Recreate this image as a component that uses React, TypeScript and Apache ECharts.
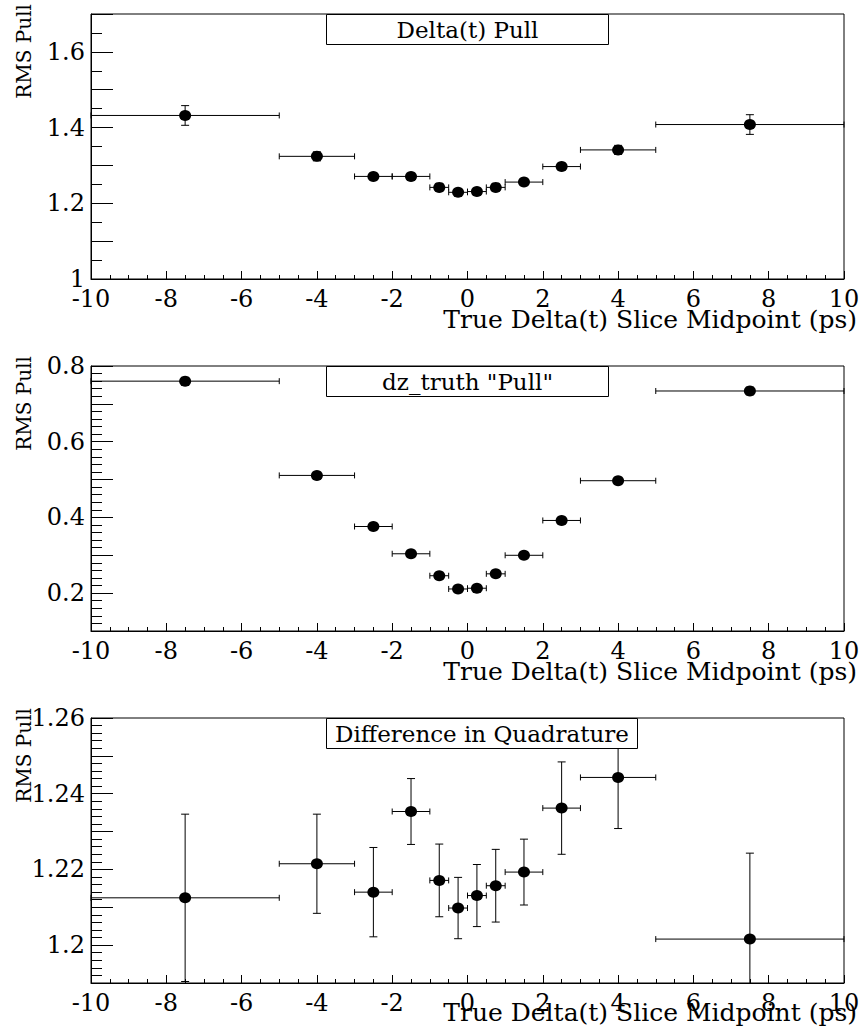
import { useEffect, useRef } from "react";
import * as echarts from "echarts";

// Bin edges of the true Delta(t) slices (ps)
const binEdges = [-10, -5, -3, -2, -1, -0.5, 0, 0.5, 1, 2, 3, 5, 10];

// Panel 1: Delta(t) pull RMS
const deltaPull = [1.432, 1.324, 1.271, 1.271, 1.242, 1.229, 1.231, 1.242, 1.256, 1.297, 1.341, 1.408];
const deltaPullErr = [0.026, 0.012, 0.006, 0.006, 0.006, 0.006, 0.006, 0.006, 0.006, 0.006, 0.012, 0.026];

// Panel 2: dz_truth "pull" RMS
const dzPull = [0.76, 0.511, 0.376, 0.304, 0.246, 0.211, 0.213, 0.251, 0.3, 0.392, 0.497, 0.734];
const dzPullErr = [0.01, 0.005, 0.004, 0.004, 0.004, 0.004, 0.004, 0.004, 0.004, 0.004, 0.005, 0.01];

// Panel 3: difference in quadrature
const quadDiff = [1.2125, 1.2215, 1.214, 1.2353, 1.2171, 1.2098, 1.2131, 1.2157, 1.2193, 1.2362, 1.2443, 1.2016];
const quadDiffErr = [0.0221, 0.0131, 0.0118, 0.0087, 0.0096, 0.0081, 0.0082, 0.0096, 0.0087, 0.0122, 0.0135, 0.0227];

// Tick labels
const xTickValues = [-10, -8, -6, -4, -2, 0, 2, 4, 6, 8, 10];
const xTickLabels = ["-10", "-8", "-6", "-4", "-2", "0", "2", "4", "6", "8", "10"];
const yTicks1 = [1, 1.2, 1.4, 1.6];
const yTickLabels1 = ["1", "1.2", "1.4", "1.6"];
const yTicks2 = [0.2, 0.4, 0.6, 0.8];
const yTickLabels2 = ["0.2", "0.4", "0.6", "0.8"];
const yTicks3 = [1.2, 1.22, 1.24, 1.26];
const yTickLabels3 = ["1.2", "1.22", "1.24", "1.26"];

const titles = ["Delta(t) Pull", 'dz_truth "Pull"', "Difference in Quadrature"];
const xTitle = "True Delta(t) Slice Midpoint (ps)";
const yTitle = "RMS Pull";

const FONT = "'DejaVu Serif', 'Liberation Serif', serif";

type Panel = {
  values: number[];
  errors: number[];
  yMin: number;
  yMax: number;
  yInterval: number;
  yMinorSplit: number;
  yTicks: number[];
  yLabels: string[];
  title: string;
  top: number;
  boxWidth: number;
  xNamePad: number;
};

const GRID_LEFT = 91;
const GRID_WIDTH = 753;
const GRID_HEIGHT = 265;

const panels: Panel[] = [
  { values: deltaPull, errors: deltaPullErr, yMin: 1, yMax: 1.7, yInterval: 0.1, yMinorSplit: 2, yTicks: yTicks1, yLabels: yTickLabels1, title: titles[0], top: 14, boxWidth: 282, xNamePad: 28 },
  { values: dzPull, errors: dzPullErr, yMin: 0.1, yMax: 0.8, yInterval: 0.1, yMinorSplit: 5, yTicks: yTicks2, yLabels: yTickLabels2, title: titles[1], top: 366, boxWidth: 282, xNamePad: 28 },
  { values: quadDiff, errors: quadDiffErr, yMin: 1.19, yMax: 1.26, yInterval: 0.01, yMinorSplit: 5, yTicks: yTicks3, yLabels: yTickLabels3, title: titles[2], top: 718, boxWidth: 311, xNamePad: 17 },
];

function labelFor(ticks: number[], labels: string[], v: number): string {
  for (let i = 0; i < ticks.length; i++) {
    if (Math.abs(ticks[i] - v) < 1e-7) return labels[i];
  }
  return "";
}

function buildOption() {
  const centers = binEdges.slice(0, -1).map((e, i) => (e + binEdges[i + 1]) / 2);
  const halfWidths = binEdges.slice(0, -1).map((e, i) => (binEdges[i + 1] - e) / 2);

  const grids: any[] = [];
  const xAxes: any[] = [];
  const yAxes: any[] = [];
  const series: any[] = [];
  const graphics: any[] = [];

  panels.forEach((p, i) => {
    grids.push({
      left: GRID_LEFT,
      top: p.top,
      width: GRID_WIDTH,
      height: GRID_HEIGHT,
      containLabel: false,
      outerBoundsMode: "none",
      show: true,
      borderColor: "#000",
      borderWidth: 1,
      backgroundColor: "transparent",
    });
    xAxes.push({
      gridIndex: i,
      type: "value",
      min: -10,
      max: 10,
      interval: 2,
      axisLine: { show: true, onZero: false, lineStyle: { color: "#000", width: 1 } },
      axisTick: { show: true, inside: true, length: 8, lineStyle: { color: "#000", width: 1 } },
      minorTick: { show: true, splitNumber: 4, length: 4, lineStyle: { color: "#000", width: 1 } },
      splitLine: { show: false },
      axisLabel: {
        color: "#000",
        fontFamily: FONT,
        fontSize: 24,
        margin: 8,
        hideOverlap: false,
        showMinLabel: true,
        showMaxLabel: true,
        formatter: (v: number) => labelFor(xTickValues, xTickLabels, v),
      },
      name: xTitle,
      nameLocation: "end",
      nameGap: 13,
      nameMoveOverlap: false,
      nameTextStyle: {
        color: "#000",
        fontFamily: FONT,
        fontSize: 25,
        align: "right",
        verticalAlign: "top",
        padding: [p.xNamePad, 0, 0, 0],
      },
    });
    yAxes.push({
      gridIndex: i,
      type: "value",
      min: p.yMin,
      max: p.yMax,
      interval: p.yInterval,
      axisLine: { show: true, onZero: false, lineStyle: { color: "#000", width: 1 } },
      axisTick: { show: true, inside: true, length: 22, lineStyle: { color: "#000", width: 1 } },
      minorTick: { show: true, splitNumber: p.yMinorSplit, length: 11, lineStyle: { color: "#000", width: 1 } },
      splitLine: { show: false },
      axisLabel: {
        color: "#000",
        fontFamily: FONT,
        fontSize: 24,
        margin: 6,
        hideOverlap: false,
        showMinLabel: true,
        showMaxLabel: true,
        formatter: (v: number) => labelFor(p.yTicks, p.yLabels, v),
      },
      name: yTitle,
      nameLocation: "end",
      nameRotate: 90,
      nameGap: 10,
      nameMoveOverlap: false,
      nameTextStyle: {
        color: "#000",
        fontFamily: FONT,
        fontSize: 20,
        align: "right",
        verticalAlign: "bottom",
        padding: [0, 0, 57, 0],
      },
    });

    const errData = centers.map((c, k) => [c, p.values[k], halfWidths[k], p.errors[k]]);
    series.push({
      type: "custom",
      xAxisIndex: i,
      yAxisIndex: i,
      z: 2,
      encode: { x: 0, y: 1 },
      data: errData,
      renderItem: (params: any, api: any) => {
        const x = api.value(0);
        const y = api.value(1);
        const xe = api.value(2);
        const ye = api.value(3);
        const cs = params.coordSys;
        const yTopBound = cs.y;
        const yBotBound = cs.y + cs.height;
        const l = api.coord([x - xe, y]);
        const r = api.coord([x + xe, y]);
        const t = api.coord([x, y + ye]);
        const b = api.coord([x, y - ye]);
        const style = { stroke: "#000", lineWidth: 1, fill: null };
        const children: any[] = [];
        children.push({ type: "line", shape: { x1: l[0], y1: l[1], x2: r[0], y2: r[1] }, style });
        children.push({ type: "line", shape: { x1: l[0], y1: l[1] - 3, x2: l[0], y2: l[1] + 3 }, style });
        children.push({ type: "line", shape: { x1: r[0], y1: r[1] - 3, x2: r[0], y2: r[1] + 3 }, style });
        const ty = Math.max(t[1], yTopBound);
        const by = Math.min(b[1], yBotBound);
        children.push({ type: "line", shape: { x1: t[0], y1: ty, x2: b[0], y2: by }, style });
        if (t[1] >= yTopBound) {
          children.push({ type: "line", shape: { x1: t[0] - 4, y1: t[1], x2: t[0] + 4, y2: t[1] }, style });
        }
        if (b[1] <= yBotBound) {
          children.push({ type: "line", shape: { x1: b[0] - 4, y1: b[1], x2: b[0] + 4, y2: b[1] }, style });
        }
        return { type: "group", children };
      },
    });
    series.push({
      type: "scatter",
      xAxisIndex: i,
      yAxisIndex: i,
      z: 3,
      symbol: "circle",
      symbolSize: [12, 11],
      itemStyle: { color: "#000", opacity: 1 },
      data: centers.map((c, k) => [c, p.values[k]]),
    });

    graphics.push({
      type: "rect",
      z: 100,
      shape: { x: 326.5, y: p.top + 0.5, width: p.boxWidth, height: 30 },
      style: { fill: "#fff", stroke: "#000", lineWidth: 1 },
    });
    graphics.push({
      type: "text",
      z: 101,
      x: 326.5 + p.boxWidth / 2,
      y: p.top + 16,
      style: {
        text: p.title,
        fontFamily: FONT,
        fontSize: 23,
        fill: "#000",
        align: "center",
        verticalAlign: "middle",
      },
    });
  });

  return {
    animation: false,
    backgroundColor: "#fff",
    grid: grids,
    xAxis: xAxes,
    yAxis: yAxes,
    series,
    graphic: graphics,
  };
}

export default function App() {
  const ref = useRef<HTMLDivElement>(null);
  useEffect(() => {
    if (!ref.current) return;
    const chart = echarts.init(ref.current, undefined, { renderer: "svg" });
    chart.setOption(buildOption() as any);
    return () => {
      chart.dispose();
    };
  }, []);
  return (
    <div
      ref={ref}
      style={{ position: "absolute", left: 0, top: 0, width: 861, height: 1036, background: "#fff" }}
    />
  );
}
